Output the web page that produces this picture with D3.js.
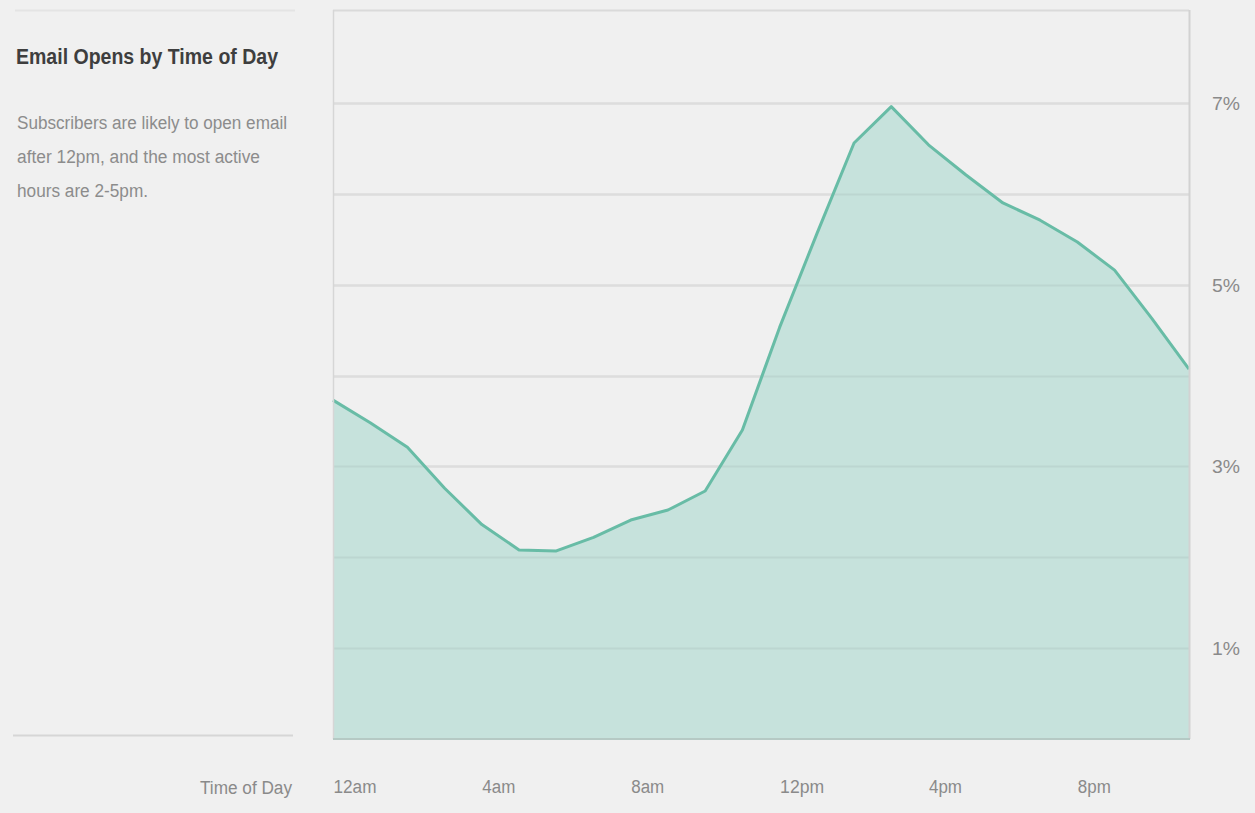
<!DOCTYPE html>
<html>
<head>
<meta charset="utf-8">
<script src="https://cdn.jsdelivr.net/npm/d3@7"></script>
<style>
  html, body { margin: 0; padding: 0; background: #f0f0f0; }
  svg { display: block; font-family: "Liberation Sans", Arial, sans-serif; }
</style>
</head>
<body>
<svg id="chart" width="1255" height="813"></svg>
<script>
// ---- Data ----
const hours = d3.range(24);
const openRates = [3.73, 3.48, 3.21, 2.76, 2.36, 2.08, 2.07, 2.22, 2.41, 2.52, 2.73, 3.40,
                   4.53, 5.56, 6.56, 6.96, 6.54, 6.21, 5.90, 5.71, 5.47, 5.16, 4.63, 4.07];
const xTickHours = [0, 4, 8, 12, 16, 20];
const xTickLabels = ["12am", "4am", "8am", "12pm", "4pm", "8pm"];
const gridValues = [1, 2, 3, 4, 5, 6, 7];
const yTickValues = [1, 3, 5, 7];
const titleText = "Email Opens by Time of Day";
const subtitleLines = ["Subscribers are likely to open email", "after 12pm, and the most active", "hours are 2-5pm."];
const xAxisTitle = "Time of Day";

// ---- Layout ----
const svg = d3.select("#chart");
const plot = { left: 333, right: 1189, top: 10, bottom: 739 };

const x = d3.scaleLinear().domain([0, 23]).range([plot.left, plot.right]);
const y = d3.scaleLinear().domain([0, 7]).range([plot.bottom, 103]);

const area = d3.area().x((d, i) => x(hours[i])).y0(y(0)).y1(d => y(d));
const line = d3.line().x((d, i) => x(hours[i])).y(d => y(d));

svg.append("defs").append("clipPath").attr("id", "areaClip")
  .append("path").datum(openRates).attr("d", area);

// top faint rules
svg.append("line").attr("x1", 15).attr("x2", 295).attr("y1", 10.5).attr("y2", 10.5)
  .attr("stroke", "#e4e4e4").attr("stroke-width", 2);
svg.append("line").attr("x1", plot.left).attr("x2", plot.right).attr("y1", 10.5).attr("y2", 10.5)
  .attr("stroke", "#dadada").attr("stroke-width", 2);

// gridlines
svg.append("g").selectAll("line").data(gridValues).join("line")
  .attr("x1", plot.left).attr("x2", plot.right)
  .attr("y1", d => Math.round(y(d)) + 0.5).attr("y2", d => Math.round(y(d)) + 0.5)
  .attr("stroke", "#dddddd").attr("stroke-width", 2.5);

// area
svg.append("path").datum(openRates).attr("d", area).attr("fill", "#c6e2dc");

// gridlines visible through fill (subtle)
svg.append("g").attr("clip-path", "url(#areaClip)").selectAll("line").data(gridValues).join("line")
  .attr("x1", plot.left).attr("x2", plot.right)
  .attr("y1", d => Math.round(y(d)) + 0.5).attr("y2", d => Math.round(y(d)) + 0.5)
  .attr("stroke", "#b8d2cc").attr("stroke-opacity", 0.7).attr("stroke-width", 2);

// line
svg.append("path").datum(openRates).attr("d", line)
  .attr("fill", "none").attr("stroke", "#68bca6").attr("stroke-width", 3).attr("stroke-linejoin", "round");

// plot frame: left, right, bottom
svg.append("line").attr("x1", plot.left + 0.5).attr("x2", plot.left + 0.5).attr("y1", plot.top).attr("y2", plot.bottom)
  .attr("stroke", "#d6d6d6").attr("stroke-width", 1.5);
svg.append("line").attr("x1", plot.right + 0.5).attr("x2", plot.right + 0.5).attr("y1", plot.top).attr("y2", plot.bottom)
  .attr("stroke", "#d2d2d2").attr("stroke-width", 2);
svg.append("line").attr("x1", plot.left).attr("x2", plot.right + 1).attr("y1", plot.bottom).attr("y2", plot.bottom)
  .attr("stroke", "#b5c9c4").attr("stroke-width", 2);

// left panel bottom rule
svg.append("line").attr("x1", 13).attr("x2", 293).attr("y1", 735.5).attr("y2", 735.5)
  .attr("stroke", "#d6d6d6").attr("stroke-width", 2);

// y axis labels (right)
const yAxis = d3.axisRight(y).tickValues(yTickValues).tickFormat(d => d + "%").tickSize(0).tickPadding(0);
const gy = svg.append("g").attr("transform", `translate(1212,0)`).call(yAxis);
gy.select(".domain").remove();
gy.selectAll("text").attr("font-size", 18).attr("fill", "#8a8a8a")
  .attr("font-family", "Liberation Sans, Arial, sans-serif").attr("dy", "0.36em")
  .attr("textLength", 28).attr("lengthAdjust", "spacingAndGlyphs");

// x axis labels (left aligned at tick)
const xAxis = d3.axisBottom(x).tickValues(xTickHours).tickFormat((d, i) => xTickLabels[i]).tickSize(0).tickPadding(0);
const gx = svg.append("g").attr("transform", `translate(0,780)`).call(xAxis);
gx.select(".domain").remove();
gx.selectAll("text").attr("font-size", 18).attr("fill", "#8a8a8a").attr("text-anchor", "start")
  .attr("font-family", "Liberation Sans, Arial, sans-serif").attr("dy", "0.71em")
  .attr("textLength", (d, i) => [43, 33, 33, 44, 33, 33][i])
  .attr("lengthAdjust", "spacingAndGlyphs");

svg.append("text").attr("x", 292).attr("y", 794).attr("text-anchor", "end")
  .attr("font-size", 18).attr("fill", "#8a8a8a").text(xAxisTitle)
  .attr("textLength", 92).attr("lengthAdjust", "spacingAndGlyphs");

// title & subtitle
svg.append("text").attr("x", 16).attr("y", 64).attr("font-size", 22).attr("font-weight", "bold")
  .attr("fill", "#3e3e3e").text(titleText)
  .attr("textLength", 262).attr("lengthAdjust", "spacingAndGlyphs");

const subWidths = [270, 243, 131];
svg.append("g").selectAll("text").data(subtitleLines).join("text")
  .attr("x", 17).attr("y", (d, i) => 129 + i * 34)
  .attr("font-size", 18).attr("fill", "#8c8c8c")
  .attr("textLength", (d, i) => subWidths[i]).attr("lengthAdjust", "spacingAndGlyphs")
  .text(d => d);
</script>
</body>
</html>
